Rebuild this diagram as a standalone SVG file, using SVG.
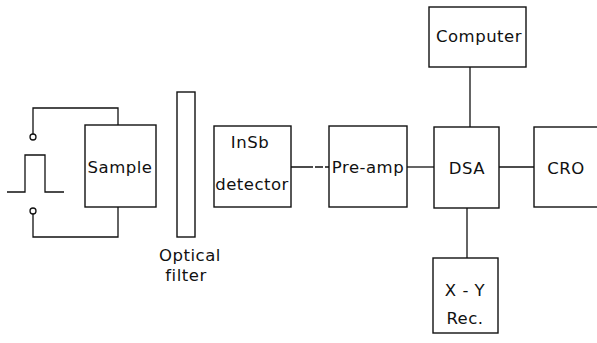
<svg xmlns="http://www.w3.org/2000/svg" width="597" height="343" viewBox="0 0 597 343">
  <style>
    .box { fill: none; stroke: #111; stroke-width: 1.4; }
    .wire { fill: none; stroke: #111; stroke-width: 1.3; }
    .lbl { font-family: "DejaVu Sans", "Liberation Sans", sans-serif; font-size: 16.5px; fill: #111; text-anchor: middle; letter-spacing: 0.5px; }
  </style>
  <rect width="597" height="343" fill="#fff"/>

  <!-- connectors -->
  <g id="connectors" class="wire">
    <!-- pulse source terminals to sample -->
    <polyline points="33,134 33,108 118,108 118,125"/>
    <polyline points="33,214 33,237 118,237 118,207"/>
    <circle cx="33" cy="137" r="3" fill="#fff"/>
    <circle cx="33" cy="211" r="3" fill="#fff"/>
    <!-- pulse waveform -->
    <polyline points="7,192 25,192 25,155 45,155 45,192 64,192"/>
    <!-- signal chain -->
    <line x1="291" y1="167" x2="329" y2="167" stroke-dasharray="22 2 8 2"/>
    <line x1="407" y1="167" x2="434" y2="167"/>
    <line x1="499" y1="167" x2="534" y2="167"/>
    <line x1="470" y1="67" x2="470" y2="127"/>
    <line x1="467" y1="208" x2="467" y2="258"/>
  </g>

  <g id="sample">
    <rect class="box" x="85" y="125" width="71" height="82"/>
    <text class="lbl" x="120" y="173">Sample</text>
  </g>

  <g id="filter">
    <rect class="box" x="177" y="92" width="18" height="145"/>
    <text class="lbl" x="190" y="261">Optical</text>
    <text class="lbl" x="186" y="281">filter</text>
  </g>

  <g id="detector">
    <rect class="box" x="214" y="126" width="77" height="81"/>
    <text class="lbl" x="250" y="148">InSb</text>
    <text class="lbl" x="252" y="190">detector</text>
  </g>

  <g id="preamp">
    <rect class="box" x="329" y="126" width="78" height="81"/>
    <text class="lbl" x="368" y="173">Pre-amp</text>
  </g>

  <g id="dsa">
    <rect class="box" x="434" y="127" width="65" height="81"/>
    <text class="lbl" x="467" y="174">DSA</text>
  </g>

  <g id="cro">
    <rect class="box" x="534" y="127" width="70" height="80"/>
    <text class="lbl" x="566" y="174">CRO</text>
  </g>

  <g id="computer">
    <rect class="box" x="429" y="7" width="97" height="60"/>
    <text class="lbl" x="479" y="42">Computer</text>
  </g>

  <g id="xy-recorder">
    <rect class="box" x="433" y="258" width="65" height="75"/>
    <text class="lbl" x="465" y="296">X - Y</text>
    <text class="lbl" x="465" y="324">Rec.</text>
  </g>
</svg>
